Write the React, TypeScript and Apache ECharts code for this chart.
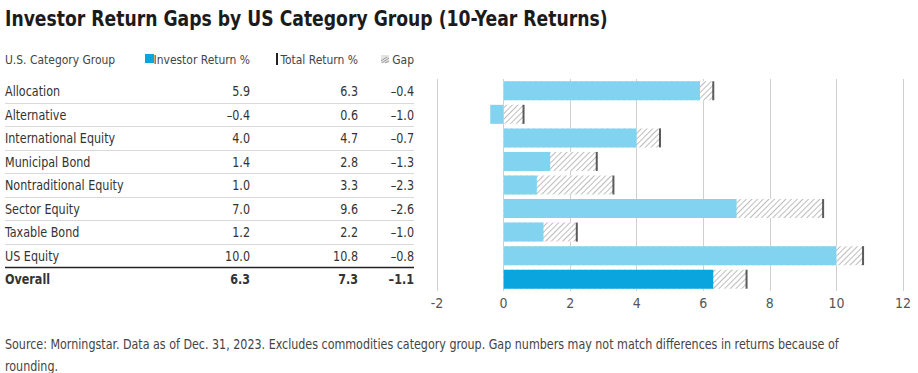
import React, { useEffect, useRef } from "react";
import * as echarts from "echarts";

const categories = [
  "Allocation",
  "Alternative",
  "International Equity",
  "Municipal Bond",
  "Nontraditional Equity",
  "Sector Equity",
  "Taxable Bond",
  "US Equity",
  "Overall",
];
const investorReturn = [5.9, -0.4, 4.0, 1.4, 1.0, 7.0, 1.2, 10.0, 6.3];
const totalReturn = [6.3, 0.6, 4.7, 2.8, 3.3, 9.6, 2.2, 10.8, 7.3];
const gapValues = [-0.4, -1.0, -0.7, -1.3, -2.3, -2.6, -1.0, -0.8, -1.1];
const xMin = -2;
const xMax = 12;
const xInterval = 2;

const titleText = "Investor Return Gaps by US Category Group (10-Year Returns)";
const headerCategory = "U.S. Category Group";
const legendInvestor = "Investor Return %";
const legendTotal = "Total Return %";
const legendGap = "Gap";
const footerLines = [
  "Source: Morningstar. Data as of Dec. 31, 2023. Excludes commodities category group. Gap numbers may not match differences in returns because of",
  "rounding.",
];

const FONT =
  "'Liberation Sans Narrow', 'DejaVu Sans Condensed', 'Roboto Condensed', Roboto, sans-serif";

const fmt = (v: number) => (v < 0 ? "\u2013" + Math.abs(v).toFixed(1) : v.toFixed(1));

export default function App() {
  const ref = useRef<HTMLDivElement>(null);
  useEffect(() => {
    if (!ref.current) return;
    const chart = echarts.init(ref.current, undefined, { renderer: "svg" });

    const TOP = 79;
    const HEIGHT = 212;
    const BAND = HEIGHT / categories.length;
    const COL_INV = 250;
    const COL_TOT = 358;
    const COL_GAP = 414;
    const textColor = "#333";
    const SX = 0.92;

    const graphics: any[] = [];
    graphics.push({
      type: "text",
      x: 5,
      y: 19,
      scaleX: 0.87,
      style: {
        text: titleText,
        font: `bold 22px ${FONT}`,
        fill: "#1b1b1b",
        verticalAlign: "middle",
      },
    });
    const headerY = 59;
    const hFont = `13px ${FONT}`;
    graphics.push({
      type: "text",
      x: 5,
      y: headerY,
      scaleX: SX,
      style: { text: headerCategory, font: hFont, fill: "#444", verticalAlign: "middle" },
    });
    graphics.push({
      type: "rect",
      shape: { x: 145, y: 54, width: 9, height: 9 },
      style: { fill: "#0aa5df" },
    });
    graphics.push({
      type: "text",
      x: COL_INV,
      y: headerY,
      scaleX: SX,
      style: { text: legendInvestor, font: hFont, fill: "#444", align: "right", verticalAlign: "middle" },
    });
    graphics.push({
      type: "rect",
      shape: { x: 276, y: 53, width: 2, height: 12 },
      style: { fill: "#222" },
    });
    graphics.push({
      type: "text",
      x: COL_TOT,
      y: headerY,
      scaleX: SX,
      style: { text: legendTotal, font: hFont, fill: "#444", align: "right", verticalAlign: "middle" },
    });
    graphics.push({
      type: "rect",
      shape: { x: 381, y: 55, width: 8, height: 8 },
      style: { fill: "#e4e4e4" },
    });
    [0, 3, 6].forEach((d) => {
      graphics.push({
        type: "line",
        shape: { x1: 381 + Math.max(0, d - 2), y1: 63 - Math.max(0, 2 - d), x2: 381 + Math.min(8, d + 6), y2: 63 - Math.min(8, d + 6) + d },
        style: { stroke: "#9a9a9a", lineWidth: 1 },
      });
    });
    graphics.push({
      type: "text",
      x: COL_GAP,
      y: headerY,
      scaleX: SX,
      style: { text: legendGap, font: hFont, fill: "#444", align: "right", verticalAlign: "middle" },
    });

    categories.forEach((c, i) => {
      const y = TOP + (i + 0.5) * BAND + 0.5;
      const isLast = i === categories.length - 1;
      const font = `${isLast ? "bold " : ""}13.5px ${FONT}`;
      graphics.push({ type: "text", x: 5, y, scaleX: SX, style: { text: c, font, fill: textColor, verticalAlign: "middle" } });
      graphics.push({ type: "text", x: COL_INV, y, scaleX: SX, style: { text: fmt(investorReturn[i]), font, fill: textColor, align: "right", verticalAlign: "middle" } });
      graphics.push({ type: "text", x: COL_TOT, y, scaleX: SX, style: { text: fmt(totalReturn[i]), font, fill: textColor, align: "right", verticalAlign: "middle" } });
      graphics.push({ type: "text", x: COL_GAP, y, scaleX: SX, style: { text: fmt(gapValues[i]), font, fill: textColor, align: "right", verticalAlign: "middle" } });
      if (i < categories.length - 1) {
        const ly = Math.round(TOP + (i + 1) * BAND) + 0.5;
        const dark = i === categories.length - 2;
        graphics.push({
          type: "line",
          shape: { x1: 5, y1: ly, x2: COL_GAP, y2: ly },
          style: { stroke: dark ? "#222" : "#d9d9d9", lineWidth: dark ? 1.3 : 1 },
        });
      }
    });

    footerLines.forEach((t, k) => {
      graphics.push({
        type: "text",
        x: 5,
        y: 344 + k * 22,
        scaleX: 0.917,
        style: { text: t, font: `13.5px ${FONT}`, fill: "#444", verticalAlign: "middle" },
      });
    });

    chart.setOption({
      animation: false,
      textStyle: { fontFamily: FONT },
      grid: { left: 437, width: 466, top: TOP, height: HEIGHT, containLabel: false },
      xAxis: {
        type: "value",
        min: xMin,
        max: xMax,
        interval: xInterval,
        axisLine: { show: false },
        axisTick: { show: false },
        axisLabel: { color: "#555", fontSize: 14, margin: 5 },
        splitLine: { show: true, lineStyle: { color: "#cfcfcf", width: 1 } },
      },
      yAxis: {
        type: "category",
        data: categories,
        inverse: true,
        axisLine: { show: false },
        axisTick: { show: false },
        axisLabel: { show: false },
        splitLine: { show: false },
      },
      series: [
        {
          type: "bar",
          name: "Gap",
          data: totalReturn,
          barWidth: 19,
          barGap: "-100%",
          itemStyle: {
            color: "#ffffff",
            decal: {
              symbol: "rect",
              symbolSize: 1,
              color: "#bdbdbd",
              backgroundColor: "#ffffff",
              dashArrayX: [1, 0],
              dashArrayY: [1, 2.5],
              rotation: -Math.PI / 4,
            },
          },
          silent: true,
        },
        {
          type: "bar",
          name: "Investor Return %",
          data: investorReturn.map((v, i) => ({
            value: v,
            itemStyle: { color: i === categories.length - 1 ? "#0aa5df" : "#81d3ef" },
          })),
          barWidth: 19,
          barGap: "-100%",
          silent: true,
        },
        {
          type: "scatter",
          name: "Total Return %",
          data: totalReturn.map((v, i) => [v, i]),
          symbol: "rect",
          symbolSize: [2, 19],
          itemStyle: { color: "#333" },
          silent: true,
        },
      ],
      graphic: graphics,
    });
    return () => chart.dispose();
  }, []);
  return (
    <div
      ref={ref}
      style={{ position: "fixed", left: 0, top: 0, width: 918, height: 373, background: "#fff" }}
    />
  );
}
